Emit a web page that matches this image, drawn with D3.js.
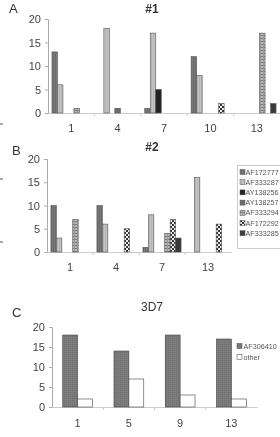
<!DOCTYPE html>
<html><head><meta charset="utf-8">
<script src="https://cdn.jsdelivr.net/npm/d3@7"></script>
<style>body{margin:0;background:#fff}svg{display:block;font-family:"Liberation Sans",Arial,sans-serif;will-change:transform}</style>
</head><body>
<script>
const seriesNames = ["AF172777","AF333287","AY138256","AY138257","AF333294","AF172292","AF333285"];
const catsA = ["1","4","7","10","13"];
const valsA = [
  [13,0,1,12,0],
  [6,18,17,8,0],
  [0,0,5,0,0],
  [0,1,0,0,0],
  [1,0,0,0,17],
  [0,0,0,2,0],
  [0,0,0,0,2]
];
const catsB = ["1","4","7","13"];
const valsB = [
  [10,10,1,0],
  [3,6,8,16],
  [0,0,0,0],
  [0,0,0,0],
  [7,0,4,0],
  [0,5,7,6],
  [0,0,3,0]
];
const seriesC = ["AF306410","other"];
const catsC = ["1","5","9","13"];
const valsC = [
  [18,14,18,17],
  [2,7,3,2]
];
const yTicks = [0,5,10,15,20];

const W=280,H=437;
const svg=d3.select("body").append("svg").attr("width",W).attr("height",H);
const defs=svg.append("defs");
function pat(id,w,h,bg,draw){
  const p=defs.append("pattern").attr("id",id).attr("patternUnits","userSpaceOnUse").attr("width",w).attr("height",h);
  p.append("rect").attr("width",w).attr("height",h).attr("fill",bg);
  draw(p);
}
pat("p0",2,2,"#7a7a7a",p=>p.append("rect").attr("x",1).attr("width",1).attr("height",2).attr("fill","#6a6a6a"));
pat("p1",2,2,"#c4c4c4",p=>p.append("rect").attr("x",1).attr("width",1).attr("height",2).attr("fill","#b4b4b4"));
pat("p2",2,2,"#222",p=>{});
pat("p3",2,2,"#6b6b6b",p=>{});
pat("p4",3,3,"#b8b8b8",p=>{p.append("rect").attr("y",2).attr("width",3).attr("height",1).attr("fill","#777");p.append("rect").attr("x",2).attr("width",1).attr("height",3).attr("fill","#999");});
pat("p5",4,4,"#eee",p=>{p.append("rect").attr("width",2).attr("height",2).attr("fill","#333");p.append("rect").attr("x",2).attr("y",2).attr("width",2).attr("height",2).attr("fill","#333");});
pat("p6",2,2,"#3a3a3a",p=>{});
pat("pc0",2,2,"#7c7c7c",p=>p.append("rect").attr("width",1).attr("height",1).attr("fill","#6f6f6f"));
pat("pc1",2,2,"#fff",p=>{});
const fillsAB=seriesNames.map((d,i)=>`url(#p${i})`);
const fillsC=["url(#pc0)","url(#pc1)"];

function panel(opt){
  const g=svg.append("g");
  const x0=d3.scaleBand().domain(opt.cats).range([opt.x0,opt.x1]).padding(0);
  const x1=d3.scaleBand().domain(d3.range(opt.vals.length)).range([0,x0.bandwidth()]).paddingInner(0).paddingOuter(0.72);
  const y=d3.scaleLinear().domain([0,20]).range([opt.y0,opt.y1]);
  const ya=g.append("g").attr("transform",`translate(${opt.x0},0)`).call(d3.axisLeft(y).tickValues(yTicks).tickSize(3).tickPadding(4));
  ya.select(".domain").attr("stroke","#aaa");
  ya.selectAll(".tick line").attr("stroke","#aaa");
  ya.selectAll("text").attr("font-size",11).attr("fill","#444");
  const xa=g.append("g").attr("transform",`translate(0,${opt.y0})`).call(d3.axisBottom(x0).tickSize(0).tickPadding(opt.xpad));
  xa.select(".domain").attr("stroke","#ccc");
  xa.selectAll("text").attr("font-size",11).attr("fill","#444");
  const bounds=opt.cats.slice(1).map(c=>x0(c));
  g.selectAll(".xt").data(bounds).join("line").attr("x1",d=>d).attr("x2",d=>d).attr("y1",opt.y0).attr("y2",opt.y0+3).attr("stroke","#ccc");
  opt.vals.forEach((arr,si)=>{
    g.selectAll(null).data(arr.map((v,ci)=>({v,c:opt.cats[ci]})).filter(d=>d.v>0)).join("rect")
      .attr("x",d=>x0(d.c)+x1(si)).attr("width",x1.bandwidth())
      .attr("y",d=>y(d.v)).attr("height",d=>y(0)-y(d.v))
      .attr("fill",opt.fills[si]).attr("stroke",opt.stroke).attr("stroke-width",0.6);
  });
  g.append("text").attr("x",152).attr("y",opt.ty).attr("text-anchor","middle").attr("font-size",opt.tsize).attr("font-weight",opt.tbold?"bold":"normal").attr("fill","#333").text(opt.title);
  g.append("text").attr("x",opt.lx).attr("y",opt.ly).attr("font-size",13).attr("fill","#333").text(opt.letter);
  return {x0,y};
}
panel({cats:catsA,vals:valsA,x0:48,x1:280,y0:113,y1:19,fills:fillsAB,stroke:"#555",xpad:11,title:"#1",ty:13,tsize:12,tbold:true,letter:"A",lx:9,ly:13});
panel({cats:catsB,vals:valsB,x0:47,x1:231,y0:252,y1:159,fills:fillsAB,stroke:"#555",xpad:11,title:"#2",ty:151,tsize:12,tbold:true,letter:"B",lx:12,ly:155});
panel({cats:catsC,vals:valsC,x0:52,x1:257,y0:407,y1:327,fills:fillsC,stroke:"#444",xpad:12,title:"3D7",ty:311,tsize:12,tbold:false,letter:"C",lx:12,ly:317});

const lg=svg.append("g");
lg.append("rect").attr("x",237.5).attr("y",165.5).attr("width",45).attr("height",83).attr("fill","#fff").attr("stroke","#ccc");
seriesNames.forEach((n,i)=>{
  const yy=172+i*10.2;
  lg.append("rect").attr("x",240).attr("y",yy-2.5).attr("width",5).attr("height",5).attr("fill",fillsAB[i]).attr("stroke","#555").attr("stroke-width",0.5);
  lg.append("text").attr("x",245.5).attr("y",yy+2.5).attr("font-size",7.2).attr("fill","#555").text(n);
});
seriesC.forEach((n,i)=>{
  const yy=346+i*11;
  lg.append("rect").attr("x",237).attr("y",yy-2.5).attr("width",5).attr("height",5).attr("fill",fillsC[i]).attr("stroke","#444").attr("stroke-width",0.5);
  lg.append("text").attr("x",243.5).attr("y",yy+2.5).attr("font-size",7.2).attr("fill","#555").text(n);
});
[124,179,242].forEach(v=>svg.append("line").attr("x1",0).attr("x2",3).attr("y1",v).attr("y2",v).attr("stroke","#555"));
</script>
</body></html>
